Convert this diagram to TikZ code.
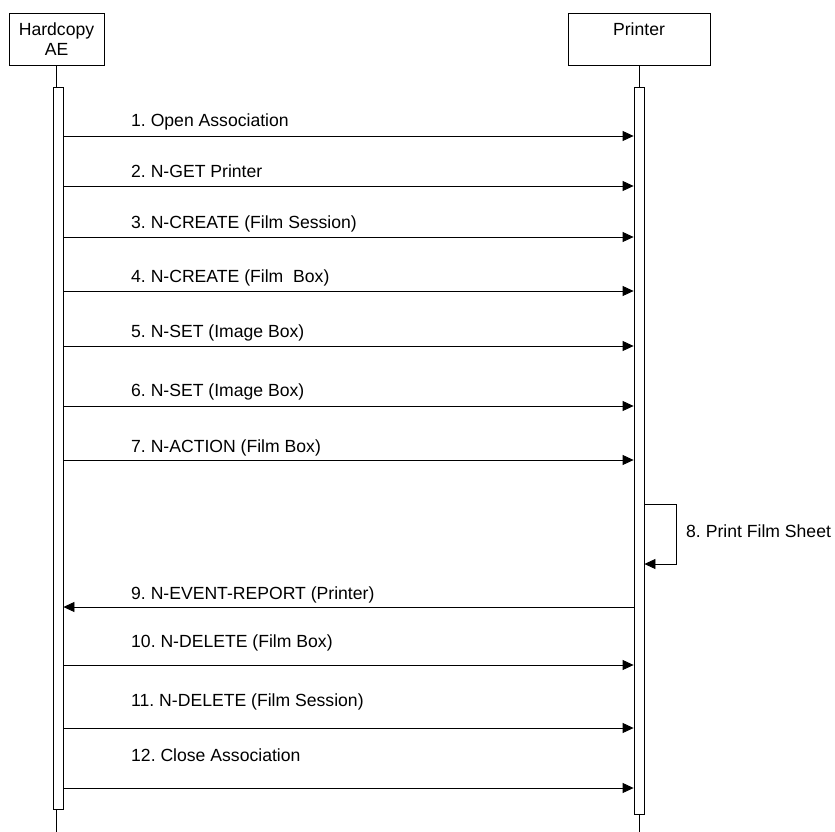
\documentclass[tikz,border=0pt]{standalone}
\usepackage{fontspec}
\setmainfont{Liberation Sans}
\usetikzlibrary{arrows.meta}
\frenchspacing
\begin{document}
\begin{tikzpicture}[x=1pt,y=-1pt,
  every node/.style={font=\fontsize{17.6}{20}\selectfont},
  objbox/.style={draw,line width=0.8pt,rectangle,inner sep=0pt},
  actbar/.style={draw,line width=0.8pt,rectangle,fill=white,inner sep=0pt,minimum width=10pt},
  lifeline/.style={line width=0.8pt},
  msg/.style={line width=0.8pt,-{Triangle[length=11pt,width=10pt]}},
  msglabel/.style={anchor=base west,inner sep=0pt}]
\useasboundingbox (0,0) rectangle (835,832);
% object boxes
\node[objbox,minimum width=95pt,minimum height=52pt,align=center] (hc) at (56.5,39) {Hardcopy\\AE};
\node[objbox,minimum width=142pt,minimum height=52pt] (pr) at (639,39) {};
\node[inner sep=0pt] (prtext) at (639,29) {Printer};
% lifelines
\coordinate (hcend) at (58,832);
\coordinate (prend) at (639,832);
\draw[lifeline] (hc.south) -- (hc.south |- hcend);
\draw[lifeline] (pr.south) -- (pr.south |- prend);
% activation bars
\node[actbar,minimum height=722pt] (hbar) at (58,448) {};
\node[actbar,minimum height=727pt] (pbar) at (639,450.5) {};
% messages
\foreach \i/\y/\ly/\t in {1/136/127/{1. Open Association},
                          2/186/177/{2. N-GET Printer},
                          3/237/228/{3. N-CREATE (Film Session)},
                          4/291/282/{4. N-CREATE (Film\ \ Box)},
                          5/346/337/{5. N-SET (Image Box)},
                          6/406/396/{6. N-SET (Image Box)},
                          7/460/452/{7. N-ACTION (Film Box)},
                          10/665/647/{10. N-DELETE (Film Box)},
                          11/728/706/{11. N-DELETE (Film Session)},
                          12/788/761/{12. Close Association}}{
  \coordinate (s\i) at (hbar.east |- 0,\y);
  \coordinate (e\i) at (pbar.west |- 0,\y);
  \draw[msg] (s\i) -- (e\i);
  \node[msglabel] (l\i) at (131,\ly) {\t};
}
% self message 8
\coordinate (s8) at (pbar.east |- 0,504);
\coordinate (c8a) at (676,504);
\coordinate (c8b) at (676,564);
\coordinate (e8) at (pbar.east |- 0,564);
\draw[msg] (s8) -- (c8a) -- (c8b) -- (e8);
\node[anchor=west,inner sep=0pt] (l8) at (686,531) {8. Print Film Sheet};
% message 9
\coordinate (s9) at (pbar.west |- 0,607);
\coordinate (e9) at (hbar.east |- 0,607);
\draw[msg] (s9) -- (e9);
\node[msglabel] (l9) at (131,599) {9. N-EVENT-REPORT (Printer)};
\end{tikzpicture}
\end{document}
